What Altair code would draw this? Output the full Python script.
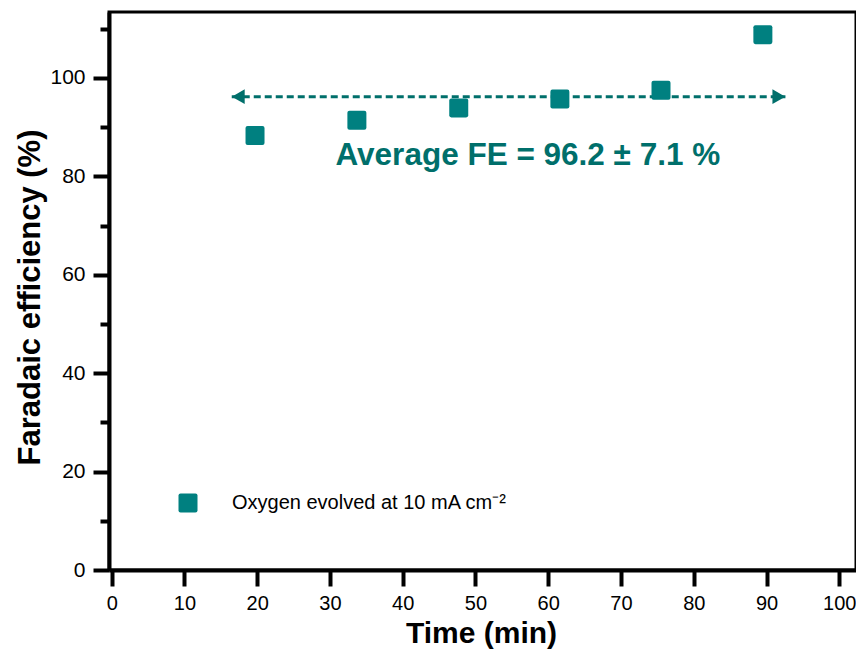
import altair as alt
import pandas as pd

# ---- data ----
time_min = [19.7, 33.7, 47.7, 61.6, 75.5, 89.5]
faradaic_eff = [88.3, 91.4, 93.9, 95.7, 97.5, 108.8]
series_name = "Oxygen evolved at 10 mA cm⁻²"

avg_fe = 96.2
avg_start, avg_end = 16.5, 92.6
avg_label = "Average FE = 96.2 ± 7.1 %"
label_x, label_y = 57.2, 82.4

x_ticks = [0, 10, 20, 30, 40, 50, 60, 70, 80, 90, 100]
y_ticks = [0, 10, 20, 30, 40, 50, 60, 70, 80, 90, 100, 110]

TEAL = "#008080"
TEAL_DARK = "#006f6b"
FONT = "Liberation Sans"
ROUND_SQ = ("M-0.78,-1H0.78Q1,-1 1,-0.78V0.78Q1,1 0.78,1H-0.78Q-1,1 -1,0.78"
            "V-0.78Q-1,-1 -0.78,-1Z")

pts = pd.DataFrame({"t": time_min, "fe": faradaic_eff, "s": [series_name] * len(time_min)})
avg_df = pd.DataFrame({"x": [avg_start], "x2": [avg_end], "y": [avg_fe]})
heads = pd.DataFrame({"x": [avg_start + 0.9, avg_end - 0.9], "y": [avg_fe, avg_fe],
                      "shape": ["triangle-left", "triangle-right"]})
lab_df = pd.DataFrame({"x": [label_x], "y": [label_y], "text": [avg_label]})

xscale = alt.Scale(domain=[-0.37, 102.3], nice=False, zero=False)
yscale = alt.Scale(domain=[0, 113.4], nice=False, zero=False)

x_axis = alt.Axis(values=x_ticks, title="Time (min)", grid=False,
                  domainColor="black", domainWidth=4, tickColor="black",
                  tickWidth=4, tickSize=16, labelFont=FONT, labelFontSize=20,
                  labelColor="black", labelPadding=7, labelFlush=False,
                  titleFont=FONT, titleFontSize=30, titleFontWeight="bold",
                  titleColor="black", titleX=372, titleY=63,
                  titleBaseline="middle", titleAlign="center")
y_axis = alt.Axis(values=y_ticks, title="Faradaic efficiency (%)", grid=False,
                  labelExpr="datum.value % 20 === 0 ? datum.label : ''",
                  domainColor="black", domainWidth=4, tickColor="black",
                  tickWidth=4,
                  tickSize={"condition": {"test": "datum.value % 20 === 0", "value": 16}, "value": 9},
                  labelFont=FONT, labelFontSize=21, labelColor="black",
                  labelPadding=8, labelFlush=False,
                  titleFont=FONT, titleFontSize=31, titleFontWeight="bold",
                  titleColor="black", titleX=-79, titleY=285, titleAngle=-90,
                  titleBaseline="middle", titleAlign="center")

points = alt.Chart(pts).mark_point(shape=ROUND_SQ, size=361, filled=True, opacity=1).encode(
    x=alt.X("t:Q", scale=xscale, axis=x_axis),
    y=alt.Y("fe:Q", scale=yscale, axis=y_axis),
    color=alt.Color("s:N", scale=alt.Scale(domain=[series_name], range=[TEAL]),
                    legend=alt.Legend(title=None, orient="none", legendX=69, legendY=481,
                                      symbolType=ROUND_SQ, symbolSize=361,
                                      symbolStrokeWidth=0, symbolOpacity=1,
                                      labelFont=FONT, labelFontSize=20,
                                      labelColor="black", labelOffset=34,
                                      labelLimit=0, padding=0)),
)

avg_line = alt.Chart(avg_df).mark_rule(color=TEAL_DARK, strokeWidth=3,
                                       strokeDash=[7, 4]).encode(
    x=alt.X("x:Q", scale=xscale), x2="x2:Q", y=alt.Y("y:Q", scale=yscale))

arrow_heads = alt.Chart(heads).mark_point(filled=True, size=220, color=TEAL_DARK,
                                          opacity=1).encode(
    x=alt.X("x:Q", scale=xscale), y=alt.Y("y:Q", scale=yscale),
    shape=alt.Shape("shape:N", scale=None))

label = alt.Chart(lab_df).mark_text(font=FONT, fontSize=31.5, fontWeight="bold",
                                    color=TEAL_DARK, align="center",
                                    baseline="alphabetic").encode(
    x=alt.X("x:Q", scale=xscale), y=alt.Y("y:Q", scale=yscale), text="text:N")

chart = alt.layer(avg_line, arrow_heads, points, label).properties(
    width=747, height=558,
    autosize=alt.AutoSizeParams(type="none"),
    padding={"left": 101, "top": 4, "right": 0, "bottom": 79},
).configure_view(stroke="black", strokeWidth=3)

chart.save("out.html", embed_options={"renderer": "svg", "actions": False})
